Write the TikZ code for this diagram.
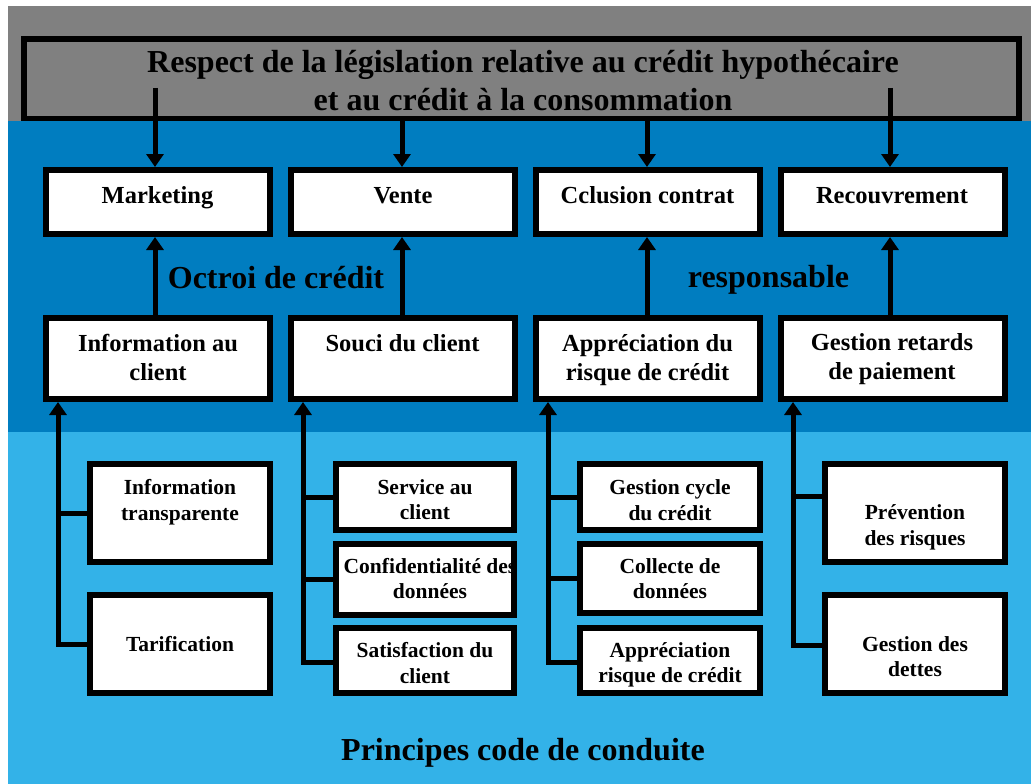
\documentclass[tikz,border=0pt]{standalone}
\usepackage{fontspec}
\setmainfont{Liberation Serif}
\usetikzlibrary{arrows.meta,calc}
\definecolor{bggray}{RGB}{128,128,128}
\definecolor{dblue}{RGB}{0,125,192}
\definecolor{lblue}{RGB}{51,178,232}
\begin{document}
\begin{tikzpicture}[x=1pt,y=-1pt,
  box/.style={draw=black, line width=6pt, fill=white, inner sep=0pt},
  conn/.style={draw=black, line width=5pt, line join=miter},
  arr/.style={conn, -{Triangle[length=13pt,width=17pt]}},
  tbig/.style={font=\fontsize{32}{38}\selectfont\bfseries, align=center, inner sep=0pt},
  tmid/.style={font=\fontsize{24.5}{29}\selectfont\bfseries, align=center, inner sep=0pt},
  tsmall/.style={font=\fontsize{21.5}{25.5}\selectfont\bfseries, align=center, inner sep=0pt}]
\useasboundingbox (0,0) rectangle (1031,784);
% backgrounds
\fill[white] (0,0) rectangle (1031,784);
\fill[bggray] (8,6) rectangle (1031,121);
\fill[dblue] (8,121) rectangle (1031,432);
\fill[lblue] (8,432) rectangle (1031,784);
% title box
\node[box, fill=bggray, minimum width=995pt, minimum height=80pt] (title) at (521.5,79) {};
\fill[dblue] (8,121) rectangle (1031,123);
% top boxes
\node[box, minimum width=224pt, minimum height=64pt] (top1) at (158,202) {};
\node[box, minimum width=224pt, minimum height=64pt] (top2) at (403,202) {};
\node[box, minimum width=224pt, minimum height=64pt] (top3) at (648,202) {};
\node[box, minimum width=224pt, minimum height=64pt] (top4) at (893,202) {};
% middle boxes
\node[box, minimum width=224pt, minimum height=81pt] (mid1) at (158,358.5) {};
\node[box, minimum width=224pt, minimum height=81pt] (mid2) at (403,358.5) {};
\node[box, minimum width=224pt, minimum height=81pt] (mid3) at (648,358.5) {};
\node[box, minimum width=224pt, minimum height=81pt] (mid4) at (893,358.5) {};
% bottom boxes
\node[box, minimum width=180pt, minimum height=98pt] (a1) at (180,513) {};
\node[box, minimum width=180pt, minimum height=98pt] (a2) at (180,644) {};
\node[box, minimum width=178pt, minimum height=66pt] (b1) at (425,497) {};
\node[box, minimum width=178pt, minimum height=71pt] (b2) at (425,579) {};
\node[box, minimum width=178pt, minimum height=65pt] (b3) at (425,660.5) {};
\node[box, minimum width=180pt, minimum height=66pt] (c1) at (670,497) {};
\node[box, minimum width=180pt, minimum height=69pt] (c2) at (670,578.5) {};
\node[box, minimum width=180pt, minimum height=65pt] (c3) at (670,660.5) {};
\node[box, minimum width=180pt, minimum height=98pt] (d1) at (915,513) {};
\node[box, minimum width=180pt, minimum height=98pt] (d2) at (915,644) {};
% connector columns
\coordinate (s1) at (155,88);
\coordinate (s2) at (402,121);
\coordinate (s3) at (647,121);
\coordinate (s4) at (890,88);
\coordinate (v1) at (58,0);
\coordinate (v2) at (303,0);
\coordinate (v3) at (548,0);
\coordinate (v4) at (793,0);
% title to top boxes
\draw[arr] (s1) -- (s1 |- top1.north);
\draw[arr] (s2) -- (s2 |- top2.north);
\draw[arr] (s3) -- (s3 |- top3.north);
\draw[arr] (s4) -- (s4 |- top4.north);
% middle to top boxes
\draw[arr] (s1 |- mid1.north) -- (s1 |- top1.south);
\draw[arr] (s2 |- mid2.north) -- (s2 |- top2.south);
\draw[arr] (s3 |- mid3.north) -- (s3 |- top3.south);
\draw[arr] (s4 |- mid4.north) -- (s4 |- top4.south);
% bottom to middle boxes
\draw[conn] (a1.west) -- (a1.west -| v1);
\draw[arr] (a2.west) -| (v1 |- mid1.south);
\draw[conn] (b1.west) -- (b1.west -| v2);
\draw[conn] (b2.west) -- (b2.west -| v2);
\draw[arr] ($(b3.west)+(0,1.5)$) -| (v2 |- mid2.south);
\draw[conn] (c1.west) -- (c1.west -| v3);
\draw[conn] (c2.west) -- (c2.west -| v3);
\draw[arr] ($(c3.west)+(0,1.5)$) -| (v3 |- mid3.south);
\draw[conn] ($(d1.west)+(0,-17)$) -- ($(d1.west -| v4)+(0,-17)$);
\draw[arr] ($(d2.west)+(0,1)$) -| (v4 |- mid4.south);
% texts
\node[tbig] (ttitle) at (523,81) {Respect de la législation relative au crédit hypothécaire\\et au crédit à la consommation};
\node[tmid] (ttop1) at (157.5,198) {Marketing};
\node[tmid] (ttop2) at (403,196) {Vente};
\node[tmid] (ttop3) at (647.5,195.5) {Cclusion contrat};
\node[tmid] (ttop4) at (892,196) {Recouvrement};
\node[tmid] (tmid1) at (158,357.5) {Information au\\client};
\node[tmid] (tmid2) at (402.5,343) {Souci du client};
\node[tmid] (tmid3) at (647.5,360.5) {Appréciation du\\risque de crédit};
\node[tmid] (tmid4) at (892,359.5) {Gestion retards\\de paiement};
\node[tbig] (toctroi) at (276,278) {Octroi de crédit};
\node[tbig] (tresp) at (768.5,280) {responsable};
\node[tsmall] (ta1) at (180,502) {Information\\transparente};
\node[tsmall] (ta2) at (180,644) {Tarification};
\node[tsmall] (tb1) at (425,499.5) {Service au\\client};
\node[tsmall] (tb2) at (430,578.5) {Confidentialité des\\données};
\node[tsmall] (tb3) at (425,663) {Satisfaction du\\client};
\node[tsmall] (tc1) at (670,500) {Gestion cycle\\du crédit};
\node[tsmall] (tc2) at (670,578.5) {Collecte de\\données};
\node[tsmall] (tc3) at (670,665) {Appréciation\\risque de crédit};
\node[tsmall] (td1) at (915,527.5) {Prévention\\des risques};
\node[tsmall] (td2) at (915,656.5) {Gestion des\\dettes};
\node[tbig] (tprinc) at (523,753) {Principes code de conduite};
% border over overflowing text
\draw[line width=6pt] ($(b2.south west)+(3,-3)$) rectangle ($(b2.north east)+(-3,3)$);
\end{tikzpicture}
\end{document}
